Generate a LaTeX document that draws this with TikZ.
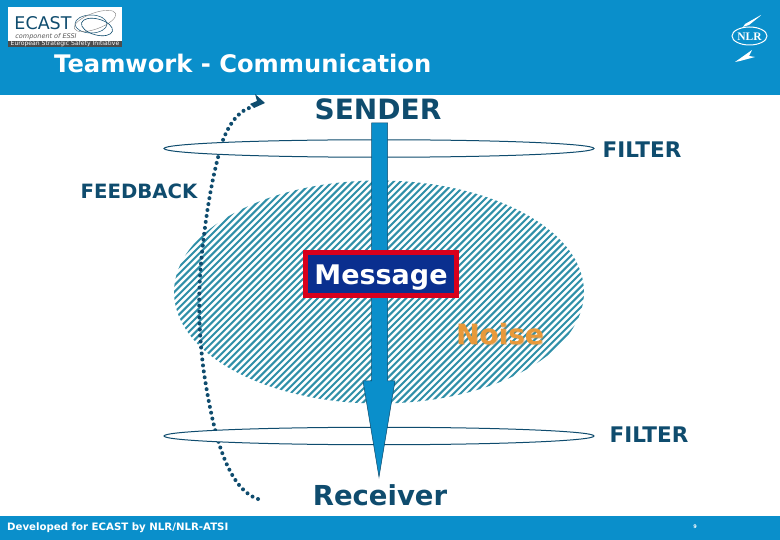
\documentclass[tikz,border=0pt]{standalone}
\usepackage{fontspec}
\usetikzlibrary{shapes.geometric}
\setmainfont{DejaVu Sans}
\newfontfamily\nlrfont{Liberation Serif}
\definecolor{hdr}{HTML}{0A8FCB}
\definecolor{dk}{HTML}{0F4C6E}
\definecolor{hatch}{HTML}{2F8FA8}
\definecolor{msgb}{HTML}{0A2F8F}
\definecolor{msgr}{HTML}{D8001C}
\definecolor{nz}{HTML}{E8993A}
\begin{document}
\begin{tikzpicture}[x=1pt,y=-1pt,
  lbl/.style={text=dk,font=\bfseries\fontsize{#1}{#1}\selectfont,inner sep=0pt},
  filt/.style={ellipse,draw=dk,fill=white,line width=1pt,minimum width=430pt,minimum height=17.5pt,inner sep=0pt},
  dotline/.style={dk,line width=4pt,line cap=round,dash pattern=on 0pt off 6pt}]
\useasboundingbox (0,0) rectangle (780,540);
\fill[white] (0,0) rectangle (780,540);
\fill[hdr] (0,0) rectangle (780,95);
\fill[hdr] (0,516) rectangle (780,540);
% logo
\fill[white] (8,7) rectangle (122,47);
\fill[gray!60!black] (8,41) rectangle (122,47);
\node[inner sep=0pt,text=dk,font=\fontsize{17.5}{17.5}\selectfont] (ecast) at (43,23) {ECAST};
\node[inner sep=0pt,text=gray!70!black,font=\itshape\fontsize{6.5}{7}\selectfont] (comp) at (46,36.5) {component of ESSI};
\node[inner sep=0pt,text=white,font=\fontsize{6.1}{7}\selectfont] (esi) at (65,44) {European Strategic Safety Initiative};
\draw[dk,line width=0.5pt] (91,24) ellipse [x radius=16,y radius=9];
\draw[gray,line width=0.4pt,rotate around={20:(95,21)}] (95,21) ellipse [x radius=22,y radius=8];
\draw[dk,line width=0.6pt,rotate around={-15:(97,27)}] (97,27) ellipse [x radius=16,y radius=8];
% NLR logo
\draw[white,line width=1pt] (749.5,36) ellipse [x radius=17.5,y radius=9];
\node[inner sep=0pt,text=white,font=\nlrfont\bfseries\fontsize{11.5}{11.5}\selectfont] (nlr) at (749.5,36.5) {NLR};
\fill[white] (761,15) -- (745,24) -- (743,27) -- (749,25) -- (759,17) -- cycle;
\fill[white] (735,62) -- (752,50) -- (749,56) -- (755,57) -- (740,61) -- cycle;
% titles
\node[inner sep=0pt,anchor=west,text=white,font=\bfseries\fontsize{24.2}{26}\selectfont] (title) at (54,63.5) {Teamwork - Communication};
\node[inner sep=0pt,anchor=west,text=white,font=\bfseries\fontsize{10.2}{11}\selectfont] (foot) at (7,528) {Developed for ECAST by NLR/NLR-ATSI};
\node[inner sep=0pt,text=white,font=\bfseries\fontsize{5}{6}\selectfont] (pg) at (695,527) {9};
% hatched ellipse
\begin{scope}
\clip (379,292) ellipse [x radius=205,y radius=111.5];
\foreach \k in {0,6.8,...,680} {\draw[hatch,line width=2pt] (-100+\k,410) -- (-100+\k+240,170);}
\end{scope}
% feedback
\coordinate (fbe) at (258,499);
\coordinate (fbs) at (252,107);
\coordinate (fbtip) at (265,103);
\draw[dotline] (fbe) .. controls (225,488) and (212,425) .. (204,373) .. controls (198,330) and (198,290) .. (202,253) .. controls (206,215) and (212,175) .. (223,140) .. controls (230,122) and (240,110) .. (fbs);
\fill[dk] (fbtip) -- (255,94) -- (257,101) -- (250,104) -- (254,108) -- cycle;
% filters
\node[filt] (f1) at (379,148.5) {};
\node[filt] (f2) at (379,436) {};
% main arrow
\coordinate (atip) at (379,477);
\draw[dk,line width=0.5pt,fill=hdr] (371.5,123) -- (387.5,123) -- (387.5,381) -- (395,381) -- (atip) -- (363,381) -- (371.5,381) -- cycle;
% message
\node[draw=msgr,fill=msgb,line width=5pt,minimum width=151pt,minimum height=43pt,inner sep=0pt,text=white,font=\bfseries\fontsize{27}{27}\selectfont] (msg) at (381,274) {\raisebox{-10.5pt}[0pt][0pt]{Message}};
% labels
\node[text=nz!85!black,opacity=0.4,font=\bfseries\fontsize{28}{28}\selectfont,inner sep=0pt] (noises) at (501,335) {Noise};
\node[text=nz,font=\bfseries\fontsize{28}{28}\selectfont,inner sep=0pt] (noise) at (500,334) {Noise};
\node[lbl=28] (sender) at (378,109) {SENDER};
\node[lbl=27.5] (recv) at (380,495) {Receiver};
\node[lbl=21.5] (ft1) at (642,150) {FILTER};
\node[lbl=21.5] (ft2) at (649,435) {FILTER};
\node[lbl=19.7] (fb) at (139,191) {FEEDBACK};
\end{tikzpicture}
\end{document}
